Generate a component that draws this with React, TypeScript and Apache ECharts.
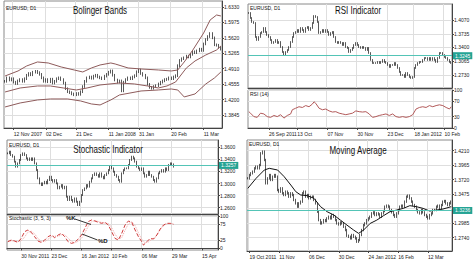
import React, { useEffect, useRef } from "react";
import * as echarts from "echarts";

const FONT = "Liberation Sans, Arial, sans-serif";

// ---------- Panel 1: Bollinger Bands (EURUSD D1, Nov 2007 - Mar 2008) ----------
const bbCloses = [
  1.462, 1.470, 1.465, 1.468, 1.460, 1.457, 1.463, 1.466, 1.462, 1.468,
  1.476, 1.480, 1.477, 1.483, 1.485, 1.482, 1.478, 1.470, 1.462, 1.466,
  1.461, 1.467, 1.458, 1.462, 1.468, 1.470, 1.466, 1.458, 1.445, 1.438,
  1.436, 1.433, 1.431, 1.434, 1.432, 1.438, 1.450, 1.462, 1.470, 1.472,
  1.469, 1.474, 1.476, 1.472, 1.470, 1.468, 1.474, 1.478, 1.483, 1.486,
  1.476, 1.465, 1.460, 1.463, 1.440, 1.460, 1.466, 1.470, 1.468, 1.472,
  1.475, 1.484, 1.488, 1.480, 1.476, 1.470, 1.455, 1.448, 1.446, 1.450,
  1.452, 1.456, 1.460, 1.463, 1.466, 1.467, 1.470, 1.468, 1.472, 1.475,
  1.498, 1.510, 1.514, 1.516, 1.520, 1.518, 1.524, 1.530, 1.528, 1.532,
  1.536, 1.533, 1.548, 1.558, 1.565, 1.572, 1.562, 1.546, 1.545, 1.540,
  1.536,
];
const bbUpper = [
  [0, 1.4743], [6, 1.4858], [10, 1.4973], [15, 1.5065], [20, 1.5042], [26, 1.495],
  [32, 1.4881], [36, 1.4835], [40, 1.4927], [44, 1.4996], [49, 1.5042], [51, 1.5019],
  [57, 1.4927], [63, 1.4904], [71, 1.4881], [77, 1.4858], [80, 1.4881], [83, 1.5065],
  [87, 1.5341], [92, 1.5732], [95, 1.6031], [98, 1.6146], [100, 1.6123],
];
const bbMiddle = [
  [0, 1.4375], [7, 1.4467], [15, 1.4513], [21, 1.4513], [27, 1.4467], [33, 1.4421],
  [38, 1.4467], [44, 1.4536], [53, 1.4582], [60, 1.4559], [66, 1.4513], [71, 1.4467],
  [75, 1.4513], [79, 1.4605], [84, 1.4927], [88, 1.5088], [93, 1.5226], [98, 1.5341],
  [100, 1.5433],
];
const bbLower = [
  [0, 1.403], [7, 1.4122], [15, 1.4191], [21, 1.4214], [29, 1.4214], [35, 1.4168],
  [40, 1.4099], [44, 1.4076], [49, 1.4191], [53, 1.4306], [63, 1.4398], [71, 1.4421],
  [77, 1.4444], [80, 1.4421], [83, 1.426], [88, 1.4329], [93, 1.4559], [97, 1.4697],
  [100, 1.4835],
];
const bbTickIdx = [4, 19, 33, 48, 62, 77, 92];
const bbTickLabels = ["12 Nov 2007", "02 Dec", "21 Dec", "11 Jan 2008", "31 Jan", "20 Feb", "11 Mar"];
const bbPriceTicks = [1.3845, 1.42, 1.4555, 1.491, 1.5265, 1.562, 1.5975, 1.633];

// ---------- Panel 2: RSI (Sep 2011 - Feb 2012) ----------
const rsiCloses = [
  1.4241, 1.4119, 1.4021, 1.3997, 1.3656, 1.3583, 1.3656, 1.3753, 1.3778, 1.3875,
  1.3778, 1.3705, 1.3656, 1.3583, 1.351, 1.3534, 1.3583, 1.351, 1.3534, 1.3412,
  1.329, 1.3217, 1.329, 1.3339, 1.3412, 1.3534, 1.3656, 1.3753, 1.3778, 1.3826,
  1.3778, 1.3875, 1.3826, 1.3778, 1.3875, 1.3899, 1.3826, 1.3875, 1.3997, 1.4167,
  1.4143, 1.4021, 1.3753, 1.3778, 1.3826, 1.3778, 1.3826, 1.3778, 1.3705, 1.3753,
  1.3778, 1.3656, 1.3534, 1.351, 1.3534, 1.351, 1.3461, 1.351, 1.3412, 1.3388,
  1.329, 1.3339, 1.3388, 1.3461, 1.351, 1.3461, 1.3412, 1.3388, 1.3412, 1.3388,
  1.3339, 1.3388, 1.3266, 1.3096, 1.3022, 1.3022, 1.3022, 1.3047, 1.3022, 1.3047,
  1.3096, 1.3047, 1.3022, 1.2974, 1.2925, 1.2974, 1.2974, 1.3022, 1.2974, 1.2901,
  1.2803, 1.273, 1.273, 1.2681, 1.2779, 1.273, 1.2681, 1.2657, 1.2681, 1.2901,
  1.2974, 1.3022, 1.3047, 1.3047, 1.3096, 1.3144, 1.3144, 1.3096, 1.3144, 1.3096,
  1.3144, 1.3096, 1.3047, 1.3144, 1.3266, 1.3266, 1.3217, 1.3169, 1.3144, 1.3096,
  1.3047, 1.3022,
];
const rsiValues = [
  [0, 43], [1, 39], [3, 30], [5, 28], [7, 39], [9, 37], [11, 30], [13, 28], [15, 33],
  [17, 30], [19, 35], [21, 26], [23, 33], [25, 37], [26, 48], [28, 52], [30, 56], [32, 54],
  [34, 59], [36, 56], [38, 63], [39, 69], [40, 65], [42, 52], [44, 48], [46, 50], [48, 45],
  [50, 42], [52, 43], [54, 39], [56, 37], [58, 35], [60, 37], [62, 39], [64, 45], [66, 43],
  [68, 42], [70, 43], [72, 37], [74, 28], [76, 30], [78, 33], [80, 35], [82, 37], [84, 33],
  [86, 37], [88, 30], [90, 28], [92, 30], [94, 28], [96, 30], [98, 35], [100, 50], [102, 54],
  [104, 56], [106, 54], [108, 59], [110, 56], [112, 59], [114, 61], [116, 59], [118, 54],
  [120, 50], [121, 56],
];
const rsiTickIdx = [12, 29, 47, 65, 83, 99, 117];
const rsiTickLabels = ["26 Sep 2011", "13 Oct", "07 Nov", "30 Nov", "23 Dec", "18 Jan 2012", "10 Feb"];
const rsiPriceTicks = [1.273, 1.3065, 1.34, 1.3735, 1.407];
const rsiLevelTicks = [0, 30, 70, 100];
const rsiLastPrice = 1.3245;

// ---------- Panel 3: Stochastic (Nov 2011 - Mar 2012) ----------
const stCloses = [
  1.35, 1.3528, 1.3472, 1.3445, 1.3362, 1.3279, 1.3334, 1.339, 1.3472, 1.35,
  1.3472, 1.3417, 1.339, 1.3417, 1.339, 1.3417, 1.3334, 1.3224, 1.3086, 1.3003,
  1.2975, 1.3003, 1.303, 1.3003, 1.3058, 1.3113, 1.3058, 1.303, 1.3058, 1.3003,
  1.292, 1.2948, 1.2975, 1.292, 1.2948, 1.2782, 1.2727, 1.2782, 1.2727, 1.2699,
  1.2754, 1.2699, 1.2644, 1.2699, 1.281, 1.2892, 1.292, 1.2975, 1.2948, 1.303,
  1.3086, 1.3141, 1.3169, 1.3141, 1.3113, 1.3169, 1.3113, 1.3086, 1.3141, 1.3169,
  1.3224, 1.3279, 1.3252, 1.3196, 1.3141, 1.3113, 1.3058, 1.303, 1.3169, 1.3224,
  1.3252, 1.3252, 1.3307, 1.339, 1.3445, 1.3417, 1.3362, 1.3279, 1.3252, 1.3224,
  1.3252, 1.3169, 1.3113, 1.3141, 1.3196, 1.3141, 1.3113, 1.3058, 1.303, 1.3086,
  1.3169, 1.3196, 1.3224, 1.3196, 1.3252, 1.3224, 1.3307, 1.3334, 1.3318, 1.3279,
];
const stSlots = 126;
const stK = [
  [0, 20.5], [2, 25.7], [4, 22.6], [6, 18.5], [8, 30.9], [10, 51.5], [12, 56.7], [14, 49.4],
  [16, 36], [18, 22.6], [20, 18.5], [22, 25.7], [24, 36], [26, 41.2], [28, 32.9], [30, 41.2],
  [32, 46.3], [34, 36], [36, 20.5], [38, 15.4], [40, 18.5], [42, 28.8], [44, 41.2], [46, 61.8],
  [48, 82.5], [50, 87.6], [52, 84.5], [54, 80.4], [56, 77.3], [58, 80.4], [60, 72.1], [62, 51.5],
  [64, 30.9], [66, 25.7], [68, 46.3], [70, 72.1], [72, 84.5], [74, 80.4], [76, 56.7], [78, 36],
  [80, 20.5], [81, 10.2], [83, 20.5], [85, 30.9], [87, 28.8], [89, 41.2], [91, 59.8], [93, 72.1],
  [95, 77.3], [97, 77.3], [99, 74.2],
];
const stD = [
  [0, 22], [2, 23], [4, 24], [6, 21], [8, 23], [10, 35], [12, 50], [14, 53], [16, 45], [18, 30],
  [20, 22], [22, 21], [24, 28], [26, 36], [28, 38], [30, 37], [32, 42], [34, 42], [36, 32],
  [38, 21], [40, 17], [42, 22], [44, 31], [46, 48], [48, 68], [50, 82], [52, 86], [54, 83],
  [56, 80], [58, 78], [60, 77], [62, 64], [64, 44], [66, 30], [68, 33], [70, 56], [72, 76],
  [74, 83], [76, 70], [78, 48], [80, 28], [82, 17], [84, 20], [86, 28], [88, 34], [90, 50],
  [92, 65], [94, 74], [96, 77], [98, 76], [99, 75],
];
const stTickIdx = [8, 26, 44, 62, 80, 98, 116];
const stTickLabels = ["30 Nov 2011", "23 Dec", "16 Jan 2012", "10 Feb", "06 Mar", "29 Mar", "15 Apr"];
const stPriceTicks = [1.26, 1.28, 1.3, 1.32, 1.34, 1.36];
const stLevelTicks = [0, 25, 75, 100];
const stLastPrice = 1.3257;

// ---------- Panel 4: Moving Average (Oct 2011 - Mar 2012) ----------
const maCloses = [
  1.3743, 1.3799, 1.3828, 1.3856, 1.3912, 1.394, 1.3912, 1.3968, 1.4166, 1.4194,
  1.4053, 1.3659, 1.3743, 1.3799, 1.3715, 1.3771, 1.3799, 1.3771, 1.3546, 1.3518,
  1.3574, 1.349, 1.3461, 1.3518, 1.349, 1.3433, 1.349, 1.3461, 1.3377, 1.332,
  1.3264, 1.332, 1.3349, 1.349, 1.3518, 1.3433, 1.3461, 1.3405, 1.3433, 1.3433,
  1.3377, 1.332, 1.3179, 1.3037, 1.2981, 1.2998, 1.3037, 1.302, 1.3066, 1.3094,
  1.3066, 1.3123, 1.3094, 1.3037, 1.2981, 1.2964, 1.2998, 1.2981, 1.2925, 1.2869,
  1.2773, 1.2756, 1.2728, 1.2785, 1.2756, 1.2728, 1.2672, 1.27, 1.2785, 1.2869,
  1.2952, 1.2981, 1.3037, 1.3066, 1.3094, 1.3151, 1.3168, 1.3123, 1.3151, 1.3134,
  1.3094, 1.3151, 1.319, 1.3264, 1.3281, 1.3264, 1.3207, 1.3168, 1.3123, 1.3094,
  1.3151, 1.3207, 1.3264, 1.3281, 1.3264, 1.3349, 1.3433, 1.345, 1.3405, 1.3349,
  1.3292, 1.3264, 1.3207, 1.3168, 1.3151, 1.3207, 1.3168, 1.3123, 1.3094, 1.3066,
  1.3123, 1.3151, 1.3207, 1.3207, 1.3264, 1.3281, 1.3235, 1.3292, 1.3349, 1.336,
  1.332, 1.3292, 1.332, 1.3349,
];
const maLine = [
  [0, 1.3574], [5, 1.3743], [10, 1.3884], [13, 1.3912], [18, 1.3884], [22, 1.3771],
  [26, 1.363], [29, 1.3518], [32, 1.3461], [36, 1.345], [40, 1.3405], [44, 1.3264],
  [48, 1.3179], [52, 1.3123], [56, 1.3037], [60, 1.2952], [64, 1.2869], [67, 1.2813],
  [70, 1.2869], [74, 1.2981], [78, 1.3037], [82, 1.3111], [86, 1.3179], [90, 1.3207],
  [94, 1.3235], [98, 1.3281], [102, 1.3264], [106, 1.3235], [110, 1.319], [114, 1.3207],
  [118, 1.3224], [123, 1.3264],
];
const maTickIdx = [1, 19, 37, 55, 73, 91, 109];
const maTickLabels = ["19 Oct 2011", "11 Nov", "06 Dec", "30 Dec", "24 Jan 2012", "16 Feb", "12 Mar"];
const maPriceTicks = [1.274, 1.2985, 1.323, 1.3475, 1.372, 1.3965, 1.421];
const maLabelTicks = [1.274, 1.2985, 1.3475, 1.372, 1.3965, 1.421];
const maLastPrice = 1.3236;

// ---------- helpers ----------
function toCandles(closes: number[], wick: number) {
  return closes.map((c, i) => {
    const o = i === 0 ? c : closes[i - 1];
    return [o, c, Math.min(o, c) - wick, Math.max(o, c) + wick];
  });
}
function cats(n: number, idx: number[], labels: string[]) {
  return Array.from({ length: n }, (_, i) => {
    const k = idx.indexOf(i);
    return k >= 0 ? labels[k] : "";
  });
}
const GRID_LINE = "#dedede";
const AXIS = "#444";

function xAxisCfg(gridIndex: number, n: number, idx: number[], labels: string[], showLabels: boolean) {
  const iv = (i: number) => idx.includes(i);
  return {
    type: "category",
    gridIndex,
    data: cats(n, idx, labels),
    boundaryGap: true,
    axisLine: { show: true, lineStyle: { color: AXIS, width: 1 } },
    axisTick: { show: showLabels, alignWithLabel: true, interval: iv, length: 2, lineStyle: { color: AXIS } },
    axisLabel: {
      show: showLabels, interval: iv, align: "left", fontSize: 5, color: "#222", margin: 3, fontFamily: FONT,
    },
    splitLine: { show: true, interval: iv, lineStyle: { color: GRID_LINE, width: 1 } },
  };
}
function yAxisCfg(gridIndex: number, min: number, max: number, ticks: number[], labelTicks: number[], dec: number) {
  return {
    type: "value",
    gridIndex,
    position: "right",
    min,
    max,
    axisLine: { show: true, lineStyle: { color: AXIS, width: 1 } },
    axisTick: { show: true, customValues: ticks, length: 2, lineStyle: { color: AXIS } },
    axisLabel: {
      customValues: labelTicks, fontSize: 5, color: "#222", margin: 2, fontFamily: FONT,
      formatter: (v: number) => v.toFixed(dec),
    },
    splitLine: { show: true, lineStyle: { color: GRID_LINE, width: 1 } },
  };
}
function candleSeries(xi: number, data: number[][], lastPrice?: number) {
  const s: any = {
    type: "candlestick",
    xAxisIndex: xi,
    yAxisIndex: xi,
    data,
    barWidth: "60%",
    itemStyle: { color: "#ffffff", color0: "#111111", borderColor: "#111111", borderColor0: "#111111", borderWidth: 0.7 },
  };
  if (lastPrice !== undefined) {
    s.markLine = {
      silent: true,
      symbol: "none",
      data: [{ yAxis: lastPrice }],
      lineStyle: { color: "#54c4b6", width: 1, type: "solid" },
      label: {
        show: true, position: "end", formatter: lastPrice.toFixed(4), backgroundColor: "#24a394",
        color: "#fff", fontSize: 5, padding: [1, 2], distance: 1, fontFamily: FONT,
      },
    };
  }
  return s;
}
function lineSeries(xi: number, yi: number, data: number[][], color: string, type: string = "solid", width = 1) {
  return {
    type: "line", xAxisIndex: xi, yAxisIndex: yi, data, symbol: "none", silent: true,
    lineStyle: { color, width, type },
  };
}
function txt(text: string, x: number, y: number, size: number, extra: any = {}) {
  return {
    type: "text", x, y, z: 100, silent: true, ...extra,
    style: { text, fontSize: size, fill: "#111", fontFamily: FONT, align: "left", verticalAlign: "middle", ...(extra.style || {}) },
  };
}
function title(text: string, x: number, y: number) {
  return {
    type: "text", x, y, z: 100, scaleX: 0.8, silent: true,
    style: { text, fontSize: 10, fill: "#111", fontFamily: FONT, align: "center", verticalAlign: "middle" },
  };
}

export default function App() {
  const ref = useRef<HTMLDivElement>(null);
  useEffect(() => {
    if (!ref.current) return;
    const chart = echarts.init(ref.current, undefined, { renderer: "svg" });
    const gridBase = { show: true, borderColor: "#8a8a8a", borderWidth: 1, backgroundColor: "#fff", containLabel: false };
    const option: any = {
      animation: false,
      backgroundColor: "#fff",
      grid: [
        { ...gridBase, left: 4, top: 1, width: 218, height: 127 },
        { ...gridBase, left: 248, top: 4, width: 204, height: 84 },
        { ...gridBase, left: 248, top: 90, width: 204, height: 38 },
        { ...gridBase, left: 7, top: 140, width: 211, height: 74 },
        { ...gridBase, left: 7, top: 215, width: 211, height: 35 },
        { ...gridBase, left: 247, top: 140, width: 205, height: 111 },
      ],
      xAxis: [
        xAxisCfg(0, bbCloses.length, bbTickIdx, bbTickLabels, true),
        xAxisCfg(1, rsiCloses.length, rsiTickIdx, rsiTickLabels, false),
        xAxisCfg(2, rsiCloses.length, rsiTickIdx, rsiTickLabels, true),
        xAxisCfg(3, stSlots, stTickIdx, stTickLabels, false),
        xAxisCfg(4, stSlots, stTickIdx, stTickLabels, true),
        xAxisCfg(5, maCloses.length, maTickIdx, maTickLabels, true),
      ],
      yAxis: [
        yAxisCfg(0, 1.3546, 1.6468, bbPriceTicks, bbPriceTicks, 4),
        yAxisCfg(1, 1.2413, 1.446, rsiPriceTicks, rsiPriceTicks, 4),
        yAxisCfg(2, 0, 100, rsiLevelTicks, rsiLevelTicks, 0),
        yAxisCfg(3, 1.2496, 1.3721, stPriceTicks, stPriceTicks, 4),
        yAxisCfg(4, -5, 103, stLevelTicks, stLevelTicks, 0),
        yAxisCfg(5, 1.2515, 1.4391, maPriceTicks, maLabelTicks, 4),
      ],
      series: [
        candleSeries(0, toCandles(bbCloses, 0.003)),
        lineSeries(0, 0, bbUpper, "#8e5b5b"),
        lineSeries(0, 0, bbMiddle, "#8e5b5b"),
        lineSeries(0, 0, bbLower, "#8e5b5b"),
        candleSeries(1, toCandles(rsiCloses, 0.002), rsiLastPrice),
        lineSeries(2, 2, rsiValues, "#b35a5a"),
        candleSeries(3, toCandles(stCloses, 0.0015), stLastPrice),
        lineSeries(4, 4, stD, "#f0a8a8", "dotted", 1),
        lineSeries(4, 4, stK, "#d03c3c", "dashed", 1),
        candleSeries(5, toCandles(maCloses, 0.002), maLastPrice),
        lineSeries(5, 5, maLine, "#111111"),
      ],
      graphic: [
        title("Bolinger Bands", 100, 11),
        title("RSI Indicator", 358, 11),
        title("Stochastic Indicator", 108, 150),
        title("Moving Average", 358, 150.5),
        txt("EURUSD, D1", 6, 8, 5),
        txt("EURUSD, D1", 250, 7.5, 5),
        txt("EURUSD, D1", 9, 145, 5),
        txt("EURUSD, D1", 249, 144, 5),
        txt("RSI (14)", 250, 93.5, 5),
        txt("Stochastic (3, 5, 3)", 9, 218, 5),
        txt("%K", 66, 217.5, 6, { style: { fontWeight: "bold" } }),
        txt("%D", 98, 241, 6, { style: { fontWeight: "bold" } }),
        { type: "line", z: 100, silent: true, shape: { x1: 75, y1: 219, x2: 91, y2: 224.5 }, style: { stroke: "#333", lineWidth: 1 } },
        { type: "line", z: 100, silent: true, shape: { x1: 82, y1: 234, x2: 97.5, y2: 240 }, style: { stroke: "#333", lineWidth: 1 } },
      ],
    };
    chart.setOption(option);
    return () => chart.dispose();
  }, []);
  return (
    <div style={{ position: "fixed", left: 0, top: 0, width: 474, height: 266, background: "#fff" }}>
      <div ref={ref} style={{ width: 474, height: 266 }} />
    </div>
  );
}
